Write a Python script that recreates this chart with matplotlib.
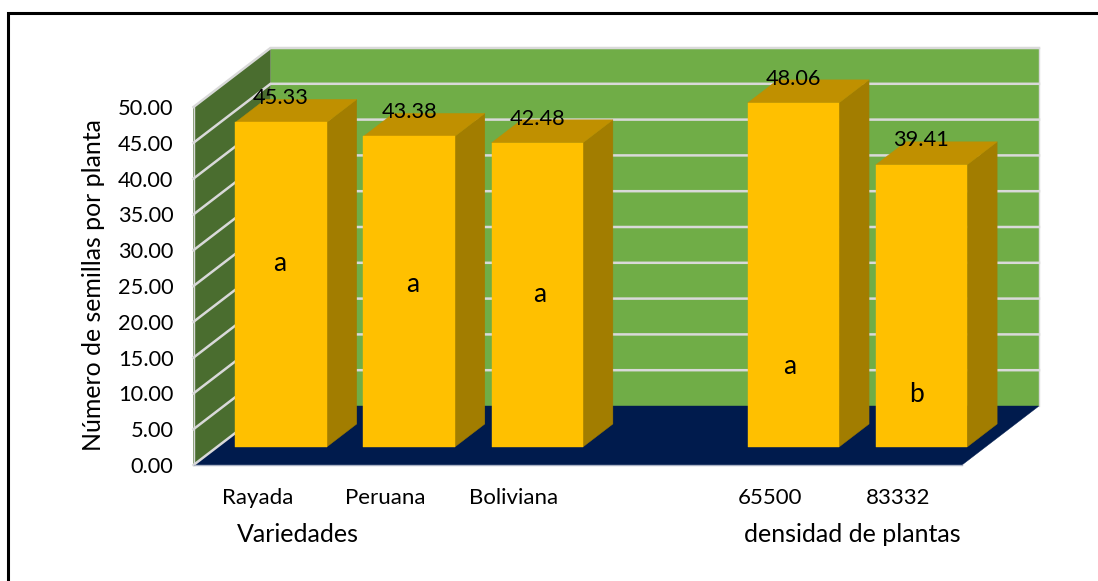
import matplotlib
matplotlib.use('Agg')
import matplotlib.pyplot as plt
from matplotlib.lines import Line2D
from matplotlib.patches import Polygon

categories = ['Rayada', 'Peruana', 'Boliviana', '65500', '83332']
slots = [0, 1, 2, 4, 5]          # slot 3 is the empty gap between the two groups
seeds = [45.33, 43.38, 42.48, 48.06, 39.41]
letters = ['a', 'a', 'a', 'a', 'b']
letter_heights = [25.6, 22.7, 21.3, 11.3, 7.3]
letter_shift = [-1, 3.5, 2.5, -4, -5]      # hand-placed, px off the bar centre
y_ticks = [0, 5, 10, 15, 20, 25, 30, 35, 40, 45, 50]

W, H = 1098, 581
WALL, SIDE_WALL, FLOOR = '#70ad47', '#4a6d2f', '#001b4d'
FRONT, TOP, SIDE = '#ffc000', '#c09000', '#a27d00'
GRID = '#d9d9d9'
NSLOTS, YMAX = 6, 50

plt.rcParams['font.family'] = ['Lato', 'DejaVu Sans']

fig = plt.figure(figsize=(W / 100, H / 100), dpi=100)
# axes box is the front plane of the 3D chart, everything else is drawn unclipped
left, right, top, bottom = 193.5, 962.0, 107.0, 465.0
ax = fig.add_axes([left / W, 1 - bottom / H, (right - left) / W, (bottom - top) / H])
ax.set_xlim(0, NSLOTS)
ax.set_ylim(0, YMAX)
ax.patch.set_visible(False)
for s in ax.spines.values():
    s.set_visible(False)

# oblique shift for depth 1.0, in data units
SLOT_PX = (right - left) / NSLOTS
DX = 77 / SLOT_PX
DY = 59 / ((bottom - top) / YMAX)

def proj(x, y, d):
    return (x + d * DX, y + d * DY)

def face(pts, color, z):
    ax.add_patch(Polygon(pts, closed=True, facecolor=color, edgecolor=color,
                         lw=0.3, zorder=z, clip_on=False))

# walls and floor
face([proj(0, 0, 1), proj(NSLOTS, 0, 1), proj(NSLOTS, YMAX, 1), proj(0, YMAX, 1)], WALL, 1)
face([proj(0, 0, 0), proj(0, 0, 1), proj(0, YMAX, 1), proj(0, YMAX, 0)], SIDE_WALL, 1)
face([proj(0, 0, 0), proj(NSLOTS, 0, 0), proj(NSLOTS, 0, 1), proj(0, 0, 1)], FLOOR, 2)

for v in y_ticks:
    xs, ys = zip(proj(0, v, 0), proj(0, v, 1), proj(NSLOTS, v, 1))
    if v == 0:
        xs, ys = xs[:2], ys[:2]
    ax.plot(xs, ys, color=GRID, lw=1.8, zorder=3, clip_on=False, solid_joinstyle='miter')
xs, ys = zip(proj(NSLOTS, 0, 1), proj(NSLOTS, YMAX, 1))
ax.plot(xs, ys, color=GRID, lw=1.0, zorder=3, clip_on=False)
xs, ys = zip(proj(0, 0, 0), proj(0, YMAX, 0))
ax.plot(xs, ys, color=GRID, lw=1.0, zorder=3, clip_on=False)
xs, ys = zip(proj(0, 0, 0), proj(NSLOTS, 0, 0))
ax.plot(xs, ys, color='#aab2c4', lw=1.0, zorder=3, clip_on=False)

# bars, front plane at depth 0.305, back plane at depth 0.695
D0, D1 = 0.305, 0.695
BAR_W = 0.713
for slot, cat, val, letter, ly, shift in zip(slots, categories, seeds, letters,
                                             letter_heights, letter_shift):
    x0 = slot + (1 - BAR_W) / 2
    x1 = x0 + BAR_W
    z = 5 + slot * 0.1
    face([proj(x1, 0, D0), proj(x1, 0, D1), proj(x1, val, D1), proj(x1, val, D0)], SIDE, z)
    face([proj(x0, val, D0), proj(x1, val, D0), proj(x1, val, D1), proj(x0, val, D1)], TOP, z)
    face([proj(x0, 0, D0), proj(x1, 0, D0), proj(x1, val, D0), proj(x0, val, D0)], FRONT, z)
    cx, cy = proj(slot + 0.5, val, D0)
    ax.text(cx, cy + 3.4, f'{val:.2f}', ha='center', va='center', fontsize=15.7,
            color='black', zorder=8, clip_on=False)
    lx, _ = proj(slot + 0.5 + shift / SLOT_PX, ly, D0)
    ax.text(lx, ly + D0 * DY, letter, ha='center', va='center', fontsize=19, color='black', zorder=8)

ax.set_yticks(y_ticks)
ax.set_yticklabels([f'{v:.2f}' for v in y_ticks], fontsize=15.7)
ax.set_xticks([s + 0.5 for s in slots])
ax.set_xticklabels(categories, fontsize=16)
ax.tick_params(axis='y', length=0, pad=14.5)
ax.tick_params(axis='x', length=0, pad=16.5)
ax.set_zorder(2)

fig.text(94 / W, 1 - 285 / H, 'Número de semillas por planta', rotation=90, fontsize=17.9,
         ha='center', va='center')
fig.text(298 / W, 1 - 535 / H, 'Variedades', fontsize=18, ha='center', va='center')
fig.text(852 / W, 1 - 535 / H, 'densidad de plantas', fontsize=18, ha='center', va='center')

# frame around the chart, open on the right and at the bottom
fig.add_artist(Line2D([7.5 / W, 7.5 / W, 1], [0, 1 - 12.5 / H, 1 - 12.5 / H], color='black', lw=2.2,
                      solid_joinstyle='miter'))

fig.savefig('out.png', dpi=100, facecolor='white')
